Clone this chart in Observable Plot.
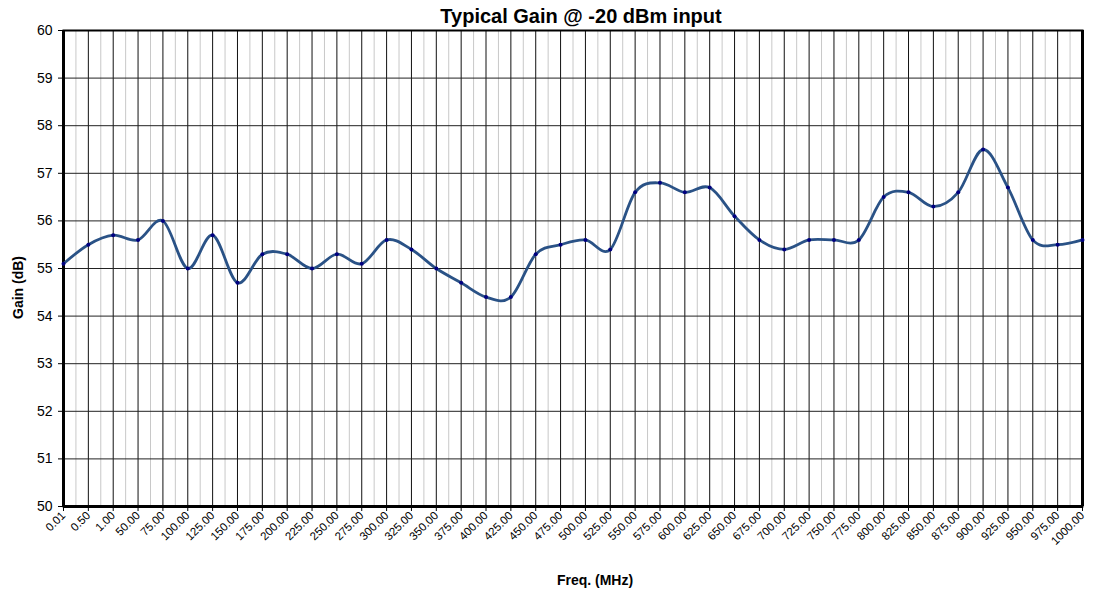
<!DOCTYPE html>
<html>
<head>
<meta charset="utf-8">
<script src="https://cdn.jsdelivr.net/npm/d3@7"></script>
<script src="https://cdn.jsdelivr.net/npm/@observablehq/plot@0.6"></script>
<style>
  html, body { margin: 0; padding: 0; background: #fff; }
  #chart svg { display: block; }
</style>
</head>
<body>
<div id="chart"></div>
<script>
const freqLabels = ["0.01","0.50","1.00","50.00","75.00","100.00","125.00","150.00","175.00","200.00",
  "225.00","250.00","275.00","300.00","325.00","350.00","375.00","400.00","425.00","450.00",
  "475.00","500.00","525.00","550.00","575.00","600.00","625.00","650.00","675.00","700.00",
  "725.00","750.00","775.00","800.00","825.00","850.00","875.00","900.00","925.00","950.00",
  "975.00","1000.00"];
const gainDb = [55.1,55.5,55.7,55.6,56.0,55.0,55.7,54.7,55.3,55.3,
  55.0,55.3,55.1,55.6,55.4,55.0,54.7,54.4,54.4,55.3,
  55.5,55.6,55.4,56.6,56.8,56.6,56.7,56.1,55.6,55.4,
  55.6,55.6,55.6,56.5,56.6,56.3,56.6,57.5,56.7,55.6,
  55.5,55.6];
const yTicks = [50,51,52,53,54,55,56,57,58,59,60];
const titleText = "Typical Gain @ -20 dBm input";
const xLabel = "Freq. (MHz)";
const yLabel = "Gain (dB)";

const data = freqLabels.map((f, i) => ({i, freq: f, gain: gainDb[i]}));
const idx = d3.range(freqLabels.length);
const minorIdx = idx.slice(0, -1).map(i => i + 0.5);

const chart = Plot.plot({
  width: 1098,
  height: 596,
  marginLeft: 63,
  marginRight: 16,
  marginTop: 30,
  marginBottom: 90,
  style: {fontFamily: "Arial, 'Liberation Sans', sans-serif", fontSize: "12px", color: "#000", background: "#fff"},
  x: {type: "linear", domain: [0, freqLabels.length - 1]},
  y: {domain: [50, 60]},
  marks: [
    Plot.ruleX(minorIdx, {stroke: "#c8c8c8", strokeWidth: 1}),
    Plot.ruleX(idx, {stroke: "#111", strokeWidth: 1}),
    Plot.ruleY(yTicks, {stroke: "#222", strokeWidth: 1}),
    Plot.frame({stroke: "#000", strokeWidth: 2}),
    Plot.ruleX([0], {stroke: "#000", strokeWidth: 3}),
    Plot.ruleX([freqLabels.length - 1], {stroke: "#000", strokeWidth: 3}),
    Plot.ruleY([50], {stroke: "#000", strokeWidth: 3}),
    Plot.axisY({ticks: yTicks, tickSize: 5, tickPadding: 6, label: null}),
    Plot.axisX({ticks: idx, tickFormat: i => freqLabels[i], tickRotate: -45, tickSize: 5, tickPadding: 2, label: null}),
    Plot.line(data, {x: "i", y: "gain", curve: "cardinal", stroke: "#2a5286", strokeWidth: 2.8}),
    Plot.dot(data, {x: "i", y: "gain", r: 2, fill: "#000080", stroke: "none"}),
    Plot.text([titleText], {frameAnchor: "top", lineAnchor: "middle", textAnchor: "middle", dy: -14, dx: 8, fontWeight: "bold", fontSize: 20}),
    Plot.text([xLabel], {frameAnchor: "bottom", lineAnchor: "middle", textAnchor: "middle", dy: 74, dx: 22, fontWeight: "bold", fontSize: 14}),
    Plot.text([yLabel], {frameAnchor: "left", lineAnchor: "middle", textAnchor: "middle", dx: -45, dy: 19, rotate: -90, fontWeight: "bold", fontSize: 14})
  ]
});
d3.select(chart).selectAll('g[aria-label="y-axis tick label"]').attr("font-size", 14).style("font-size", "14px");
d3.select(chart).selectAll('g[aria-label="x-axis tick label"]').attr("font-size", 11.5).style("font-size", "11.5px");
document.getElementById("chart").appendChild(chart);
</script>
</body>
</html>
